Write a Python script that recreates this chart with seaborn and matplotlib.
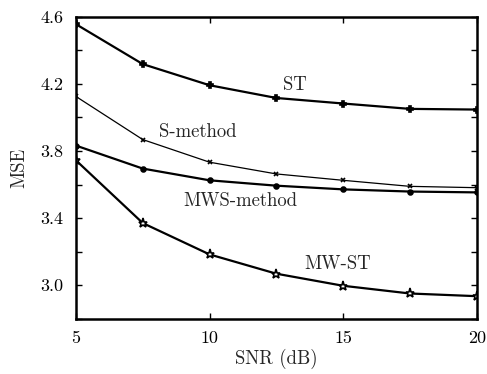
import matplotlib
matplotlib.use("Agg")
import matplotlib.pyplot as plt
import seaborn as sns
import pandas as pd
from matplotlib.ticker import MultipleLocator

snr = [5, 7.5, 10, 12.5, 15, 17.5, 20]
st = [4.556, 4.318, 4.192, 4.116, 4.083, 4.051, 4.047]
s_method = [4.125, 3.868, 3.733, 3.663, 3.625, 3.589, 3.581]
mws_method = [3.832, 3.695, 3.625, 3.593, 3.571, 3.558, 3.553]
mw_st = [3.744, 3.370, 3.183, 3.068, 2.996, 2.950, 2.934]

series_names = ["ST", "S-method", "MWS-method", "MW-ST"]
series_vals = [st, s_method, mws_method, mw_st]

rows = []
for name, vals in zip(series_names, series_vals):
    for x, y in zip(snr, vals):
        rows.append({"SNR": x, "MSE": y, "method": name})
df = pd.DataFrame(rows)

sns.set_theme(style="ticks")
plt.rcParams["font.family"] = ["cmr10", "DejaVu Serif"]
plt.rcParams["axes.formatter.use_mathtext"] = True
plt.rcParams["axes.unicode_minus"] = False
plt.rcParams["axes.edgecolor"] = "black"
plt.rcParams["xtick.color"] = "black"
plt.rcParams["ytick.color"] = "black"

fig = plt.figure(figsize=(4.87, 3.74), dpi=100)
ax = fig.add_axes([0.156, 0.148, 0.823, 0.807])

styles = {
    "ST": dict(marker="P", lw=1.6, ms=5, fc="black"),
    "S-method": dict(marker="x", lw=0.9, ms=3.5, fc="black"),
    "MWS-method": dict(marker="o", lw=1.6, ms=3.5, fc="black"),
    "MW-ST": dict(marker="*", lw=1.6, ms=6.5, fc="white"),
}
for name in series_names:
    s_ = styles[name]
    sub = df[df["method"] == name]
    sns.lineplot(data=sub, x="SNR", y="MSE", ax=ax, color="black",
                 linewidth=s_["lw"], marker=s_["marker"], markersize=s_["ms"],
                 markeredgecolor="black", markerfacecolor=s_["fc"],
                 markeredgewidth=1.2, legend=False)

ax.set_xlim(5, 20)
ax.set_ylim(2.8, 4.6)
ax.set_xticks([5, 10, 15, 20])
ax.set_yticks([3.0, 3.4, 3.8, 4.2, 4.6])
ax.yaxis.set_minor_locator(MultipleLocator(0.2))
ax.set_yticklabels(["3.0", "3.4", "3.8", "4.2", "4.6"])
ax.set_xticklabels(["5", "10", "15", "20"])
ax.tick_params(which="both", direction="in", top=True, right=True, labelsize=13)
ax.tick_params(axis="x", pad=9)
ax.tick_params(axis="y", pad=9)
ax.tick_params(which="major", length=4, width=1)
ax.tick_params(which="minor", length=4, width=1)
for sp in ax.spines.values():
    sp.set_linewidth(1.8)
    sp.set_color("black")

ax.set_xlabel("SNR (dB)", fontsize=13.5, labelpad=2)
ax.set_ylabel("MSE", fontsize=13.5, labelpad=9)

ax.text(13.19, 4.192, "ST", fontsize=13.5, ha="center", va="center")
ax.text(9.56, 3.912, "S-method", fontsize=13.5, ha="center", va="center")
ax.text(11.17, 3.50, "MWS-method", fontsize=13.5, ha="center", va="center")
ax.text(14.8, 3.124, "MW-ST", fontsize=13.5, ha="center", va="center")

fig.savefig("out.png", dpi=100)
